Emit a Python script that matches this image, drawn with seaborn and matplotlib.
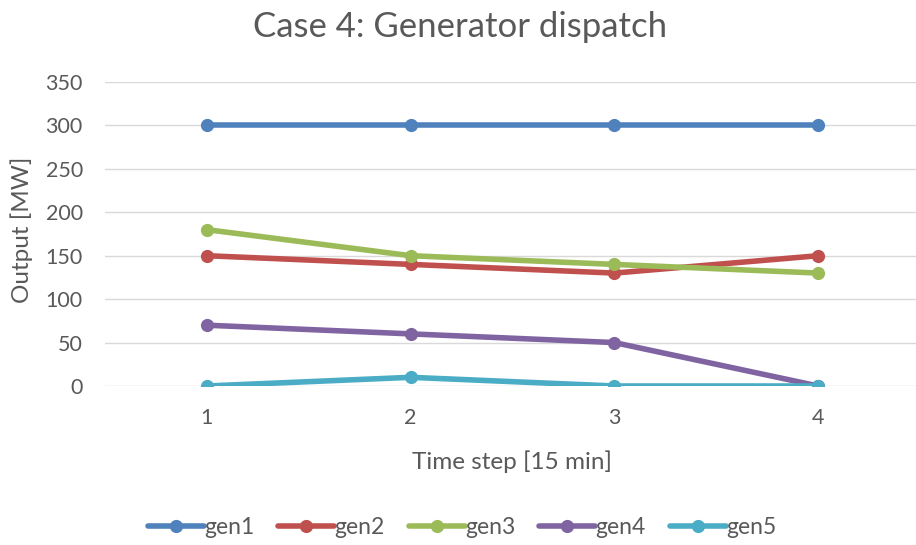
import matplotlib
matplotlib.use("Agg")
import matplotlib.pyplot as plt
import seaborn as sns
import pandas as pd

time_steps = [1, 2, 3, 4]
gen1 = [300, 300, 300, 300]
gen2 = [150, 140, 130, 150]
gen3 = [180, 150, 140, 130]
gen4 = [70, 60, 50, 0]
gen5 = [0, 10, 0, 0]
series_names = ["gen1", "gen2", "gen3", "gen4", "gen5"]
colors = ["#4F81BD", "#C0504D", "#9BBB59", "#8064A2", "#4BACC6"]
y_ticks = [0, 50, 100, 150, 200, 250, 300, 350]

rows = []
for name, vals in zip(series_names, [gen1, gen2, gen3, gen4, gen5]):
    for t, v in zip(time_steps, vals):
        rows.append({"Time": t, "Output": v, "gen": name})
df = pd.DataFrame(rows)

sns.set_theme(style="white")
plt.rcParams["font.family"] = ["Lato", "DejaVu Sans"]
txt = "#595959"

fig = plt.figure(figsize=(9.16, 5.45), dpi=100)
ax = fig.add_axes([105/916, 1-386/545, (916-105)/916, (386-82)/545])

sns.lineplot(data=df, x="Time", y="Output", hue="gen", palette=colors,
             marker="o", markersize=9.5, linewidth=4.0, markeredgewidth=0,
             ax=ax, legend=True)

ax.set_xlim(0.5, 4.48)
ax.set_ylim(0, 350)
ax.set_xticks(time_steps)
ax.set_xticklabels([str(t) for t in time_steps])
ax.set_yticks(y_ticks)
ax.grid(axis="y", color="#D9D9D9", linewidth=1)
ax.set_axisbelow(True)
for s in ax.spines.values():
    s.set_visible(False)
ax.tick_params(axis="both", length=0, colors=txt, labelsize=15.5)
ax.tick_params(axis="x", pad=16)
ax.tick_params(axis="y", pad=16)

ax.set_xlabel("Time step [15 min]", color=txt, fontsize=17.5)
ax.set_ylabel("Output [MW]", color=txt, fontsize=17.5)
ax.xaxis.set_label_coords((512-105)/811, (386-462)/304)
ax.yaxis.set_label_coords((22-105)/811, (386-230)/304)
ax.xaxis.label.set_va("center")
ax.yaxis.label.set_va("center")
fig.text(460/916, 1-27/545, "Case 4: Generator dispatch", ha="center", va="center",
         color=txt, fontsize=25)

leg = ax.legend(loc="center", bbox_to_anchor=(462/916, 1-528/545), bbox_transform=fig.transFigure,
                ncol=5, frameon=False, fontsize=16.5, handlelength=2.45, handletextpad=0.0,
                columnspacing=1.05)
for t in leg.get_texts():
    t.set_color(txt)

fig.savefig("out.png", dpi=100)
